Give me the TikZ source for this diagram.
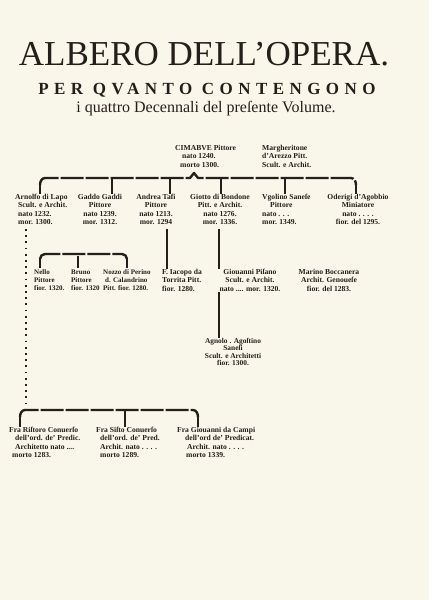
\documentclass[tikz,border=0pt]{standalone}
\usepackage{fontspec}
\setmainfont{Liberation Serif}
\newfontfamily\capispaziate[LetterSpace=32]{Liberation Serif}
\definecolor{carta}{RGB}{249,246,234}
\definecolor{inchiostro}{RGB}{38,30,26}
\tikzset{
  nome/.style={font=\fontsize{7.6}{8.3}\selectfont\bfseries, inner sep=0pt, anchor=north, align=center, text=inchiostro},
  nomesx/.style={nome, anchor=north west, align=left},
  nomepiccolo/.style={nomesx, font=\fontsize{7}{8.3}\selectfont\bfseries},
  regolo/.style={line width=2.4pt, dash pattern=on 23pt off 2pt, draw=inchiostro},
  asta/.style={line width=1.9pt, draw=inchiostro},
  punti/.style={line width=2pt, dash pattern=on 1.8pt off 4.4pt, draw=inchiostro},
}
\begin{document}
\begin{tikzpicture}[x=1pt,y=-1pt,line join=round]
	%%foglio
	\fill[carta] (0,0) rectangle (429,600);
	\useasboundingbox (0,0) rectangle (429,600);
	%%titolo
	\node[text=inchiostro,font=\fontsize{35}{35}\selectfont,anchor=base] (titolo) at (204,65) {ALBERO DELL’OPERA.};
	\node[text=inchiostro,font=\capispaziate\bfseries\fontsize{17}{17}\selectfont,anchor=base] (sottotitolo) at (207,94) {PER QVANTO CONTENGONO};
	\node[text=inchiostro,font=\fontsize{16}{16}\selectfont,anchor=base] (volume) at (206,112) {i quattro Decennali del preſente Volume.};
	%%capostipiti
	\node[nomesx] (cimabue) at (175,145) {CIMABVE Pittore\\\hspace*{7pt}nato 1240.\\\hspace*{5pt}morto 1300.};
	\node[nomesx] (margheritone) at (262,145) {Margheritone\\d’Arezzo Pitt.\\Scult. e Archit.};
	%%primo ordine
	\node[nomesx] (arnolfo) at (15,194) {Arnolfo di Lapo\\\hspace*{3pt}Scult. e Archit.\\\hspace*{3pt}nato 1232.\\\hspace*{3pt}mor. 1300.};
	\node[nome] (gaddo) at (100,194) {Gaddo Gaddi\\Pittore\\nato 1239.\\mor. 1312.};
	\node[nome] (andrea) at (156,194) {Andrea Tafi\\Pittore\\nato 1213.\\mor. 1294};
	\node[nome] (giotto) at (220,194) {Giotto di Bondone\\Pitt. e Archit.\\nato 1276.\\mor. 1336.};
	\node[nomesx] (vgolino) at (262,194) {Vgolino Saneſe\\\hspace*{8pt}Pittore\\nato . . .\\mor. 1349.};
	\node[nome] (oderigi) at (358,194) {Oderigi d’Agobbio\\Miniatore\\nato . . . .\\fior. del 1295.};
	\draw[regolo] (40,185) to[out=90,in=180] (45,178) -- (190,178) -- (194,173) -- (198,178) -- (351,178) to[out=0,in=90] (356,185);
	\coordinate (t1) at (40,184);
	\coordinate (t2) at (112,178);
	\coordinate (t3) at (170,178);
	\coordinate (t4) at (221,178);
	\coordinate (t5) at (285,178);
	\coordinate (t6) at (356,184);
	\draw[asta] (t1) -- (t1 |- arnolfo.north);
	\draw[asta] (t2) -- (t2 |- gaddo.north);
	\draw[asta] (t3) -- (t3 |- andrea.north);
	\draw[asta] (t4) -- (t4 |- giotto.north);
	\draw[asta] (t5) -- (t5 |- vgolino.north);
	\draw[asta] (t6) -- (t6 |- oderigi.north);
	%%secondo ordine
	\node[nomepiccolo] (nello) at (34,268) {\strut Nello\\Pittore\\fior. 1320.};
	\node[nomepiccolo] (bruno) at (71,268) {\strut Bruno\\Pittore\\fior. 1320};
	\node[nomepiccolo] (nozzo) at (103,268) {\strut Nozzo di Perino\\\hspace*{2pt}d. Calandrino\\Pitt. fior. 1280.};
	\node[nomesx] (iacopo) at (162,269) {F. Iacopo da\\Torrita Pitt.\\fior. 1280.};
	\node[nome] (giovanni) at (250,269) {Giouanni Piſano\\Scult. e Archit.\\nato .... mor. 1320.};
	\node[nome] (marino) at (329,269) {Marino Boccanera\\Archit. Genoueſe\\fior. del 1283.};
	\draw[regolo] (40,259) to[out=90,in=180] (45,254) -- (122,254) to[out=0,in=90] (127,259);
	\coordinate (s1) at (40,258);
	\coordinate (s2) at (78,256);
	\coordinate (s3) at (127,258);
	\draw[asta] (s1) -- (s1 |- nello.north);
	\draw[asta] (s2) -- (s2 |- bruno.north);
	\draw[asta] (s3) -- (s3 |- nozzo.north);
	\coordinate (v1) at (167,229);
	\coordinate (v2) at (219,229);
	\draw[asta] (v1) -- (v1 |- iacopo.north);
	\draw[asta] (v2) -- (v2 |- giovanni.north);
	%%terzo ordine
	\node[nome,font=\fontsize{7.4}{7.3}\selectfont\bfseries] (agnolo) at (233,338) {Agnolo . Agoſtino\\Saneſi\\Scult. e Architetti\\fior. 1300.};
	\coordinate (v3) at (219,292);
	\draw[asta] (v3) -- (v3 |- agnolo.north);
	%%conversi
	\node[nomesx] (ristoro) at (9,427) {Fra Riſtoro Conuerſo\\\hspace*{6pt}dell’ord. de’ Predic.\\\hspace*{6pt}Architetto nato ....\\\hspace*{3pt}morto 1283.};
	\node[nomesx] (sisto) at (96,427) {Fra Siſto Conuerſo\\\hspace*{4pt}dell’ord. de’ Pred.\\\hspace*{4pt}Archit. nato . . . .\\\hspace*{4pt}morto 1289.};
	\node[nomesx] (campi) at (177,427) {Fra Giouanni da Campi\\\hspace*{8pt}dell’ord de’ Predicat.\\\hspace*{10pt}Archit. nato . . . .\\\hspace*{9pt}morto 1339.};
	\draw[regolo] (20,417) to[out=90,in=180] (25,410) -- (193,410) to[out=0,in=90] (198,417);
	\coordinate (u1) at (20,416);
	\coordinate (u2) at (125,410);
	\coordinate (u3) at (198,416);
	\draw[asta] (u1) -- (u1 |- ristoro.north);
	\draw[asta] (u2) -- (u2 |- sisto.north);
	\draw[asta] (u3) -- (u3 |- campi.north);
	\draw[punti] (26,229) -- (26,404);
\end{tikzpicture}
\end{document}
